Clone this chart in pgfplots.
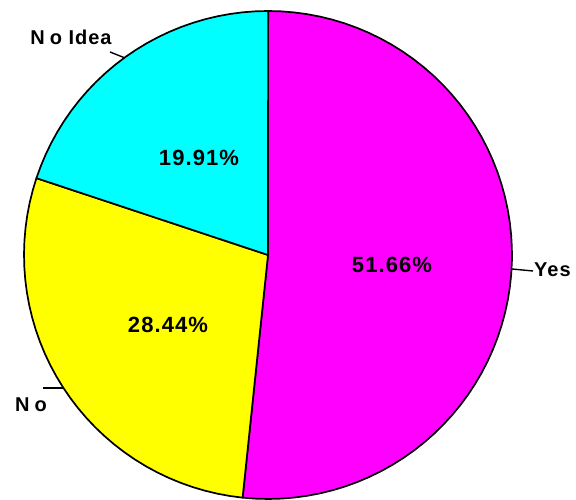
\documentclass[border=0pt]{standalone}
\usepackage{pgfplots}
\pgfplotsset{compat=1.18}
\usepackage{pgfplotstable}
\usepackage{fontspec}
\setmainfont{Liberation Sans}
\newfontfamily\lsfont[LetterSpace=5]{Liberation Sans}
\pgfplotstableread{
label share
Yes 51.66
No 28.44
NoIdea 19.91
}\piedata
\pgfplotstablegetelem{0}{share}\of\piedata \let\vYes\pgfplotsretval
\pgfplotstablegetelem{1}{share}\of\piedata \let\vNo\pgfplotsretval
\pgfplotstablegetelem{2}{share}\of\piedata \let\vNoIdea\pgfplotsretval
\pgfmathsetmacro{\aA}{90}
\pgfmathsetmacro{\aB}{90-3.6*\vYes}
\pgfmathsetmacro{\aC}{\aB-3.6*\vNo}
\pgfmathsetmacro{\aD}{\aC-3.6*\vNoIdea}
\definecolor{pieM}{RGB}{255,0,255}
\definecolor{pieY}{RGB}{255,255,0}
\definecolor{pieC}{RGB}{0,255,255}
\begin{document}
\begin{tikzpicture}
\begin{axis}[
  width=576pt, height=500pt, scale only axis,
  xmin=0, xmax=576, ymin=0, ymax=500,
  hide axis, clip=false,
]
\def\cx{268}\def\cy{245}\def\R{244}
\addplot[fill=pieM, draw=black, line width=1.7pt, line join=round, domain=\aA:\aB, samples=62]
  ({\cx+\R*cos(x)},{\cy+\R*sin(x)}) -- (axis cs:\cx,\cy) -- cycle;
\addplot[fill=pieY, draw=black, line width=1.7pt, line join=round, domain=\aB:\aC, samples=35]
  ({\cx+\R*cos(x)},{\cy+\R*sin(x)}) -- (axis cs:\cx,\cy) -- cycle;
\addplot[fill=pieC, draw=black, line width=1.7pt, line join=round, domain=\aC:\aD, samples=25]
  ({\cx+\R*cos(x)},{\cy+\R*sin(x)}) -- (axis cs:\cx,\cy) -- cycle;
% leader lines
\draw[line width=1.4pt] (axis cs:512,231) -- (axis cs:533,229);
\draw[line width=1.4pt] (axis cs:43,112) -- (axis cs:63,112);
\draw[line width=1.4pt] (axis cs:110,448) -- (axis cs:125,442);
% labels
\node[anchor=west, font=\lsfont\fontsize{20}{22}\selectfont\bfseries, inner sep=0pt] at (axis cs:534,230) {Yes};
\node[font=\lsfont\fontsize{20}{22}\selectfont\bfseries, inner sep=0pt] at (axis cs:31,95) {N\kern5pt o};
\node[font=\lsfont\fontsize{20}{22}\selectfont\bfseries, inner sep=0pt] at (axis cs:71,463) {N\kern5pt o Idea};
% percentages
\node[font=\lsfont\fontsize{22}{24}\selectfont\bfseries, inner sep=0pt] at (axis cs:392,235) {51.66\%};
\node[font=\lsfont\fontsize{22}{24}\selectfont\bfseries, inner sep=0pt] at (axis cs:168,175) {28.44\%};
\node[font=\lsfont\fontsize{22}{24}\selectfont\bfseries, inner sep=0pt] at (axis cs:199,342) {19.91\%};
\path (axis cs:0,0) rectangle (axis cs:576,500);
\end{axis}
\useasboundingbox (current axis.south west) rectangle (current axis.north east);
\end{tikzpicture}
\end{document}
